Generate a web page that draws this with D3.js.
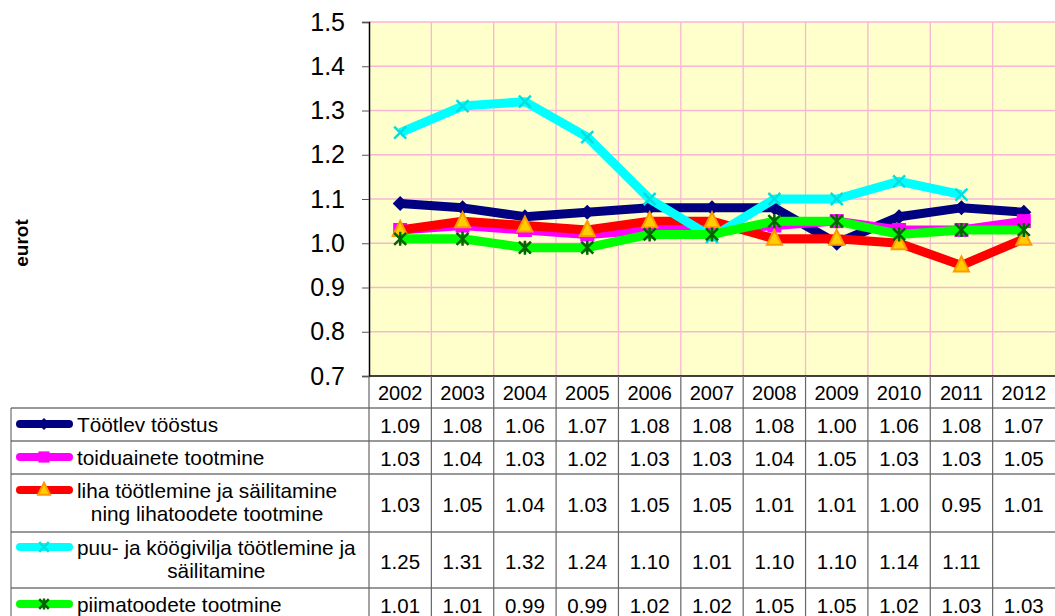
<!DOCTYPE html>
<html>
<head>
<meta charset="utf-8">
<script src="https://cdn.jsdelivr.net/npm/d3@7"></script>
<style>
  body { margin: 0; background: #fff; }
  svg { font-family: Arial, "Liberation Sans", sans-serif; }
</style>
</head>
<body>
<svg width="1055" height="616"></svg>
<script>
const svg = d3.select("svg");

// data
const years = ["2002", "2003", "2004", "2005", "2006", "2007", "2008", "2009", "2010", "2011", "2012"];
const yTicks = [0.7, 0.8, 0.9, 1.0, 1.1, 1.2, 1.3, 1.4, 1.5];
const tootlev = [1.09, 1.08, 1.06, 1.07, 1.08, 1.08, 1.08, 1.00, 1.06, 1.08, 1.07];
const toiduained = [1.03, 1.04, 1.03, 1.02, 1.03, 1.03, 1.04, 1.05, 1.03, 1.03, 1.05];
const liha = [1.03, 1.05, 1.04, 1.03, 1.05, 1.05, 1.01, 1.01, 1.00, 0.95, 1.01];
const puuvili = [1.25, 1.31, 1.32, 1.24, 1.10, 1.014, 1.10, 1.10, 1.14, 1.11, null];
const piim = [1.01, 1.01, 0.99, 0.99, 1.02, 1.02, 1.05, 1.05, 1.02, 1.03, 1.03];

const series = [
    { name: ["Töötlev tööstus"], values: tootlev, color: "#000080", marker: "diamond" },
    { name: ["toiduainete tootmine"], values: toiduained, color: "#ff00ff", marker: "square" },
    { name: ["liha töötlemine ja säilitamine", "ning lihatoodete tootmine"], values: liha, color: "#ff0000", marker: "triangle" },
    { name: ["puu- ja köögivilja töötlemine ja", "säilitamine"], values: puuvili, color: "#00ffff", marker: "cross" },
    { name: ["piimatoodete tootmine"], values: piim, color: "#00ff00", marker: "star" }
];

// layout
const plotLeft = 369, plotRight = 1055, plotTop = 22, plotBottom = 376;
const tableLeft = 11;
const rowLines = [408, 441, 474, 532, 588, 622];
const keyY = [424, 457, 490, 547, 604];
const valueY = [424, 457, 503, 560, 604];

const x = d3.scaleBand().domain(years).range([plotLeft, plotRight]);
const y = d3.scaleLinear().domain([0.7, 1.5]).range([plotBottom, plotTop]);

// plot background
svg.append("rect")
    .attr("x", plotLeft).attr("y", plotTop)
    .attr("width", plotRight - plotLeft).attr("height", plotBottom - plotTop)
    .attr("fill", "#ffffcc");

// grid
svg.append("g").selectAll("line").data(yTicks.slice(1))
    .join("line")
    .attr("x1", plotLeft).attr("x2", plotRight)
    .attr("y1", d => y(d)).attr("y2", d => y(d))
    .attr("stroke", "#f7b6d2").attr("stroke-width", 1.3);
svg.append("g").selectAll("line").data(years.slice(1))
    .join("line")
    .attr("x1", d => x(d)).attr("x2", d => x(d))
    .attr("y1", plotTop).attr("y2", plotBottom)
    .attr("stroke", "#f7b6d2").attr("stroke-width", 1.3);

// y axis
const yAxis = d3.axisLeft(y).tickValues(yTicks).tickFormat(d3.format(".1f")).tickSize(7).tickPadding(17);
const gy = svg.append("g").attr("transform", `translate(${plotLeft},0)`).call(yAxis);
gy.select(".domain").attr("stroke", "#000").attr("stroke-width", 1.5);
gy.selectAll(".tick line").attr("stroke", "#555");
gy.selectAll(".tick text").attr("font-size", 25).attr("fill", "#000")
    .attr("font-family", "Arial, 'Liberation Sans', sans-serif");

svg.append("line")
    .attr("x1", plotLeft).attr("x2", plotRight)
    .attr("y1", plotBottom).attr("y2", plotBottom)
    .attr("stroke", "#000").attr("stroke-width", 1.5);

svg.append("text")
    .attr("transform", "translate(21,243) rotate(-90)")
    .attr("text-anchor", "middle").attr("dominant-baseline", "central")
    .attr("font-size", 19).attr("font-weight", "bold")
    .text("eurot");

// markers
function drawMarker(g, type, cx, cy, color, scale = 1) {
    const s = scale;
    if (type === "diamond") {
        g.append("path")
            .attr("d", `M${cx},${cy - 7.5 * s}L${cx + 7.5 * s},${cy}L${cx},${cy + 7.5 * s}L${cx - 7.5 * s},${cy}Z`)
            .attr("fill", color);
    } else if (type === "square") {
        g.append("rect")
            .attr("x", cx - 7 * s).attr("y", cy - 7 * s)
            .attr("width", 14 * s).attr("height", 14 * s)
            .attr("fill", color);
    } else if (type === "triangle") {
        g.append("path")
            .attr("d", `M${cx},${cy - 9 * s}L${cx + 7.5 * s},${cy + 6 * s}L${cx - 7.5 * s},${cy + 6 * s}Z`)
            .attr("fill", "#ffcc00").attr("stroke", "#ff9900").attr("stroke-width", 2);
    } else if (type === "cross") {
        g.append("path")
            .attr("d", `M${cx - 6 * s},${cy - 6 * s}L${cx + 6 * s},${cy + 6 * s}M${cx - 6 * s},${cy + 6 * s}L${cx + 6 * s},${cy - 6 * s}`)
            .attr("stroke", "#00e0e0").attr("stroke-width", 2.5);
    } else if (type === "star") {
        g.append("path")
            .attr("d", `M${cx - 6 * s},${cy - 6 * s}L${cx + 6 * s},${cy + 6 * s}M${cx - 6 * s},${cy + 6 * s}L${cx + 6 * s},${cy - 6 * s}M${cx},${cy - 7 * s}L${cx},${cy + 7 * s}`)
            .attr("stroke", "#006400").attr("stroke-width", 2.5);
    }
}

const line = d3.line()
    .defined(d => d[1] != null)
    .x(d => x(d[0]) + x.bandwidth() / 2)
    .y(d => y(d[1]));

series.forEach(s => {
    const g = svg.append("g");
    const pts = years.map((yr, i) => [yr, s.values[i]]);
    g.append("path")
        .datum(pts)
        .attr("d", line)
        .attr("fill", "none")
        .attr("stroke", s.color)
        .attr("stroke-width", 9)
        .attr("stroke-linejoin", "round");
    pts.filter(p => p[1] != null).forEach(p => {
        drawMarker(g, s.marker, x(p[0]) + x.bandwidth() / 2, y(p[1]), s.color);
    });
});

// data table
const table = svg.append("g");
rowLines.forEach(ly => {
    table.append("line")
        .attr("x1", tableLeft).attr("x2", plotRight)
        .attr("y1", ly).attr("y2", ly)
        .attr("stroke", "#333").attr("stroke-width", 1);
});
table.append("line")
    .attr("x1", tableLeft).attr("x2", tableLeft)
    .attr("y1", rowLines[0]).attr("y2", 616)
    .attr("stroke", "#555");
years.forEach(yr => {
    table.append("line")
        .attr("x1", x(yr)).attr("x2", x(yr))
        .attr("y1", plotBottom).attr("y2", 616)
        .attr("stroke", "#666").attr("stroke-width", 1.2);
});

// year headers
table.selectAll(".year").data(years)
    .join("text")
    .attr("class", "year")
    .attr("x", d => x(d) + x.bandwidth() / 2)
    .attr("y", 393)
    .attr("text-anchor", "middle").attr("dominant-baseline", "central")
    .attr("font-size", 20)
    .text(d => d);

const fmt = d3.format(".2f");
series.forEach((s, si) => {
    years.forEach((yr, i) => {
        if (s.values[i] == null) return;
        table.append("text")
            .attr("x", x(yr) + x.bandwidth() / 2)
            .attr("y", valueY[si] + 1)
            .attr("text-anchor", "middle").attr("dominant-baseline", "central")
            .attr("font-size", 20.5)
            .text(fmt(s.values[i]));
    });
    // legend key + label
    const ky = keyY[si];
    table.append("line")
        .attr("x1", 20).attr("x2", 69)
        .attr("y1", ky).attr("y2", ky)
        .attr("stroke", s.color).attr("stroke-width", 8)
        .attr("stroke-linecap", "round");
    drawMarker(table, s.marker, 44, ky, s.color, 0.8);
    const first = table.append("text")
        .attr("x", 77)
        .attr("y", ky)
        .attr("dominant-baseline", "central")
        .attr("font-size", 20.8)
        .text(s.name[0]);
    if (s.name.length > 1) {
        const center = 77 + first.node().getComputedTextLength() / 2;
        table.append("text")
            .attr("x", center)
            .attr("y", ky + 23)
            .attr("text-anchor", "middle")
            .attr("dominant-baseline", "central")
            .attr("font-size", 20.8)
            .text(s.name[1]);
    }
});
</script>
</body>
</html>
